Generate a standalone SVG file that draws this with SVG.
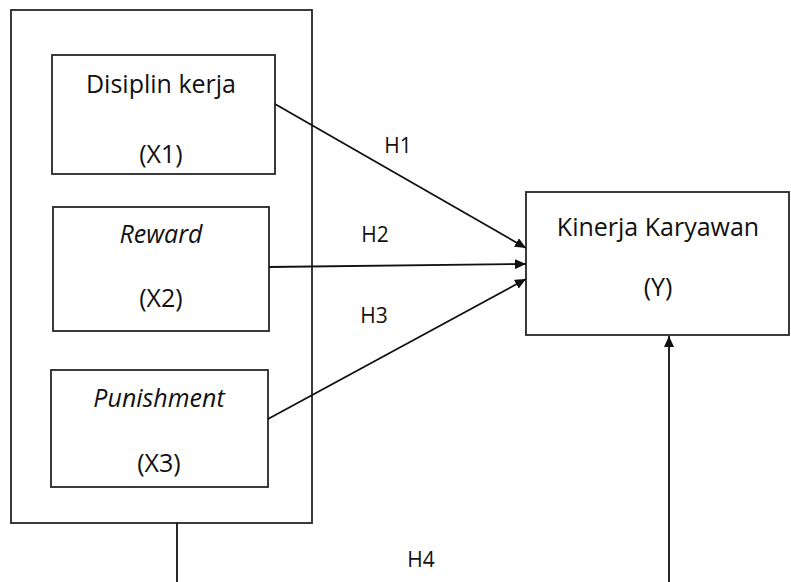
<svg xmlns="http://www.w3.org/2000/svg" width="791" height="582" viewBox="0 0 791 582">
<style>
.box{fill:#fff;stroke:#262626;stroke-width:1.8}
.t{font-family:"Open Sans","Liberation Sans",sans-serif;font-size:25px;fill:#111;text-anchor:middle}
.i{font-style:italic}
.h{font-family:"Open Sans","Liberation Sans",sans-serif;font-size:21px;fill:#111;text-anchor:middle}
.c{stroke:#111;stroke-width:1.8;fill:none}
</style>
<defs>
<marker id="ah" viewBox="0 0 10 10" refX="10" refY="5" markerWidth="11" markerHeight="10" markerUnits="userSpaceOnUse" orient="auto" preserveAspectRatio="none">
<path d="M0,0 L10,5 L0,10 z" fill="#111"/>
</marker>
</defs>
<rect id="outer" class="box" x="11" y="10" width="301" height="513"/>
<g id="x1"><rect class="box" x="52" y="55" width="223" height="119"/>
<text class="t" x="161" y="93">Disiplin kerja</text><text class="t" x="161" y="163">(X1)</text></g>
<g id="x2"><rect class="box" x="53" y="207" width="216" height="124"/>
<text class="t i" x="161" y="243">Reward</text><text class="t" x="161" y="307">(X2)</text></g>
<g id="x3"><rect class="box" x="51" y="370" width="217" height="117"/>
<text class="t i" x="159" y="407">Punishment</text><text class="t" x="159" y="472">(X3)</text></g>
<g id="y"><rect class="box" x="526" y="192" width="263" height="143"/>
<text class="t" x="658" y="236">Kinerja Karyawan</text><text class="t" x="658" y="296">(Y)</text></g>
<g id="connectors">
<line class="c" x1="275" y1="104" x2="526" y2="248" marker-end="url(#ah)"/>
<line class="c" x1="269" y1="267" x2="526" y2="264" marker-end="url(#ah)"/>
<line class="c" x1="268" y1="419" x2="526" y2="279" marker-end="url(#ah)"/>
<line class="c" x1="177" y1="523" x2="177" y2="582"/>
<line class="c" x1="669" y1="582" x2="669" y2="336" marker-end="url(#ah)"/>
<text class="h" x="398" y="153">H1</text>
<text class="h" x="375" y="242">H2</text>
<text class="h" x="374" y="323">H3</text>
<text class="h" x="421" y="567">H4</text>
</g>
</svg>
